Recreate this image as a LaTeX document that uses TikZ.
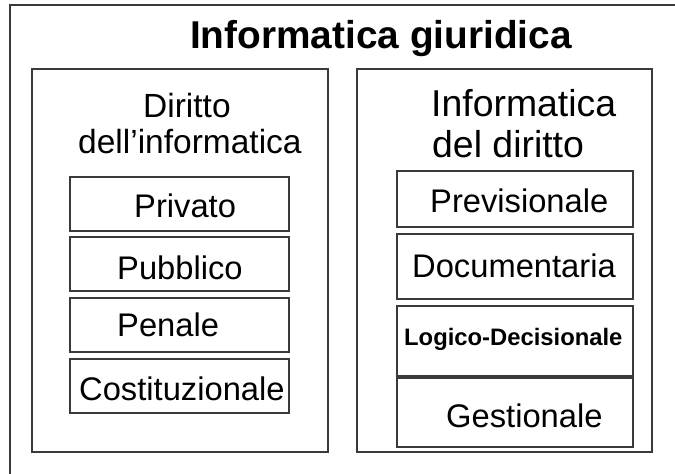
\documentclass[tikz,border=0pt]{standalone}
\usepackage{fontspec}
\setmainfont{Liberation Sans}
\definecolor{linegray}{HTML}{3A3A3A}
\begin{document}
\begin{tikzpicture}[x=1pt,y=-1pt,
  bigbox/.style={draw=linegray, line width=2pt, inner sep=0pt, outer sep=0pt, anchor=north west},
  smallbox/.style={draw=linegray, line width=1.4pt, inner sep=0pt, outer sep=0pt, anchor=north west},
  rsmallbox/.style={draw=linegray, line width=1.8pt, inner sep=0pt, outer sep=0pt, anchor=north west},
  txt/.style={anchor=base west, inner sep=0pt, font=\fontsize{32.7}{38}\selectfont},
  headtxt/.style={anchor=base west, inner sep=0pt, font=\fontsize{33.5}{40}\selectfont},
  rheadtxt/.style={anchor=base west, inner sep=0pt, font=\fontsize{37.4}{44}\selectfont},
  titletxt/.style={anchor=base west, inner sep=0pt, font=\fontsize{38.8}{46}\selectfont\bfseries},
  boldsmall/.style={anchor=base west, inner sep=0pt, font=\fontsize{23.8}{28}\selectfont\bfseries}]
\useasboundingbox (0,0) rectangle (675,474);
\clip (0,0) rectangle (675,474);
\fill[white] (0,0) rectangle (675,474);
% outer box (extends beyond the picture on right and bottom)
\node[bigbox, minimum width=700pt, minimum height=500pt] (outer) at (10,5) {};
\node[titletxt] (title) at (190,48) {Informatica giuridica};
% left column
\node[bigbox, minimum width=296pt, minimum height=383pt] (left) at (32,69) {};
\node[headtxt] (lh1) at (143,117) {Diritto};
\node[headtxt] (lh2) at (78,153) {dell’informatica};
\node[smallbox, minimum width=219pt, minimum height=54pt] (b1) at (70,177) {};
\node[txt] (t1) at (134,217) {Privato};
\node[smallbox, minimum width=219pt, minimum height=54pt] (b2) at (70,237) {};
\node[txt] (t2) at (117,279) {Pubblico};
\node[smallbox, minimum width=219pt, minimum height=54pt] (b3) at (70,298) {};
\node[txt] (t3) at (117,336) {Penale};
\node[smallbox, minimum width=219pt, minimum height=54pt] (b4) at (70,359) {};
\node[txt] (t4) at (79,400) {Costituzionale};
% right column
\node[bigbox, minimum width=295pt, minimum height=383pt] (right) at (357,69) {};
\node[rheadtxt] (rh1) at (431,116) {Informatica};
\node[rheadtxt] (rh2) at (432,157) {del diritto};
\node[rsmallbox, minimum width=236pt, minimum height=56pt] (r1) at (397,171) {};
\node[txt] (s1) at (430,212) {Previsionale};
\node[rsmallbox, minimum width=236pt, minimum height=65pt] (r2) at (397,234) {};
\node[txt] (s2) at (412,277) {Documentaria};
\node[rsmallbox, minimum width=236pt, minimum height=70pt] (r3) at (397,306) {};
\node[boldsmall] (s3) at (404,345) {Logico-Decisionale};
\node[rsmallbox, minimum width=236pt, minimum height=69pt] (r4) at (397,378) {};
\node[txt] (s4) at (446,427) {Gestionale};
\end{tikzpicture}
\end{document}
